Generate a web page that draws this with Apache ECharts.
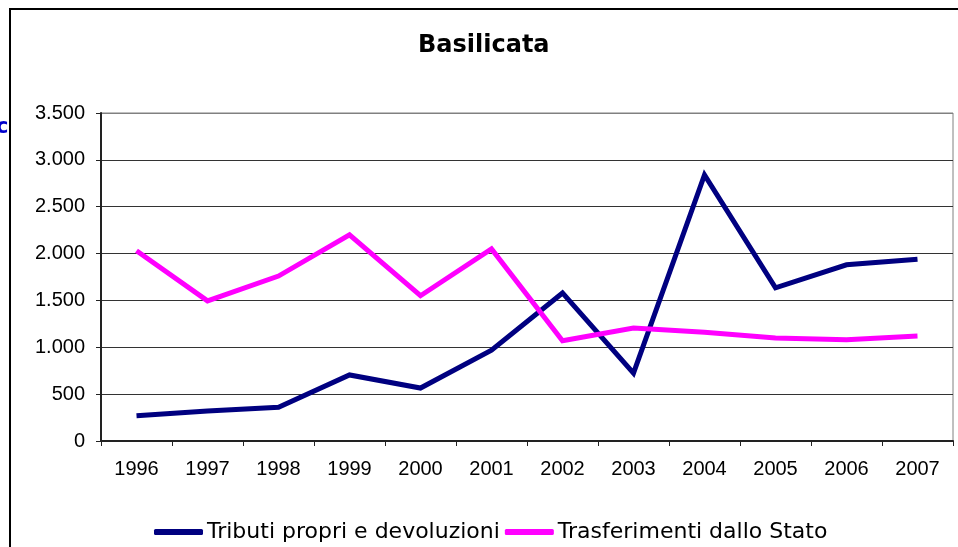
<!DOCTYPE html>
<html>
<head>
<meta charset="utf-8">
<script src="https://cdn.jsdelivr.net/npm/echarts@6/dist/echarts.min.js"></script>
<style>
  html, body { margin: 0; padding: 0; background: #fff; }
  #chart { width: 958px; height: 547px; }
</style>
</head>
<body>
<div id="chart"></div>
<script>
// data
const years = ['1996', '1997', '1998', '1999', '2000', '2001', '2002', '2003', '2004', '2005', '2006', '2007']
const tributi = [270, 320, 360, 705, 565, 970, 1580, 725, 2840, 1635, 1880, 1940]
const trasferimenti = [2030, 1495, 1760, 2200, 1550, 2050, 1070, 1205, 1160, 1100, 1080, 1120]
const seriesNames = ['Tributi propri e devoluzioni', 'Trasferimenti dallo Stato']

const chart = echarts.init(document.getElementById('chart'))

const makeLine = (name, data, color) => ({
  name: name,
  type: 'line',
  data: data,
  showSymbol: false,
  symbol: 'none',
  color: color,
  lineStyle: { width: 5, color: color, join: 'miter' }
})

const option = {
  animation: false,
  backgroundColor: '#fff',
  title: {
    text: 'Basilicata',
    left: 418,
    top: 34,
    padding: 0,
    textStyle: {
      fontFamily: 'DejaVu Sans',
      fontWeight: 'bold',
      fontSize: 24,
      color: '#000'
    }
  },
  legend: {
    data: seriesNames,
    left: 154,
    top: 521,
    padding: 0,
    itemWidth: 49,
    itemHeight: 6,
    itemGap: 5,
    icon: 'roundRect',
    textStyle: {
      fontFamily: 'DejaVu Sans',
      fontSize: 22,
      color: '#000',
      padding: [0, 0, 0, -1]
    }
  },
  grid: {
    left: 101,
    right: 5,
    top: 113,
    bottom: 106,
    show: true,
    borderColor: '#808080',
    borderWidth: 1
  },
  xAxis: {
    type: 'category',
    data: years,
    boundaryGap: true,
    axisLine: { lineStyle: { color: '#222', width: 2 } },
    axisTick: { show: true, length: 5, lineStyle: { color: '#222' } },
    axisLabel: {
      margin: 18,
      fontFamily: 'Liberation Sans',
      fontSize: 20,
      color: '#000'
    }
  },
  yAxis: {
    type: 'value',
    min: 0,
    max: 3500,
    interval: 500,
    axisLine: { show: true, lineStyle: { color: '#222', width: 2 } },
    axisTick: { show: true, length: 5, lineStyle: { color: '#222' } },
    splitLine: {
      lineStyle: {
        color: ['#333', '#333', '#333', '#333', '#333', '#333', '#333', '#808080'],
        width: 1
      }
    },
    axisLabel: {
      margin: 16,
      fontFamily: 'Liberation Sans',
      fontSize: 20,
      color: '#000',
      formatter: v => v.toLocaleString('it-IT')
    }
  },
  graphic: [
    {
      type: 'rect',
      shape: { x: 10, y: 9, width: 1000, height: 600 },
      style: { fill: 'none', stroke: '#000', lineWidth: 2 },
      silent: true
    },
    {
      type: 'text',
      left: -4,
      top: 117,
      style: {
        text: 'c',
        fill: '#0000cc',
        font: 'bold 21px "DejaVu Sans"'
      },
      silent: true
    }
  ],
  series: [
    makeLine(seriesNames[0], tributi, '#000080'),
    makeLine(seriesNames[1], trasferimenti, '#ff00ff')
  ]
}

chart.setOption(option)
</script>
</body>
</html>
